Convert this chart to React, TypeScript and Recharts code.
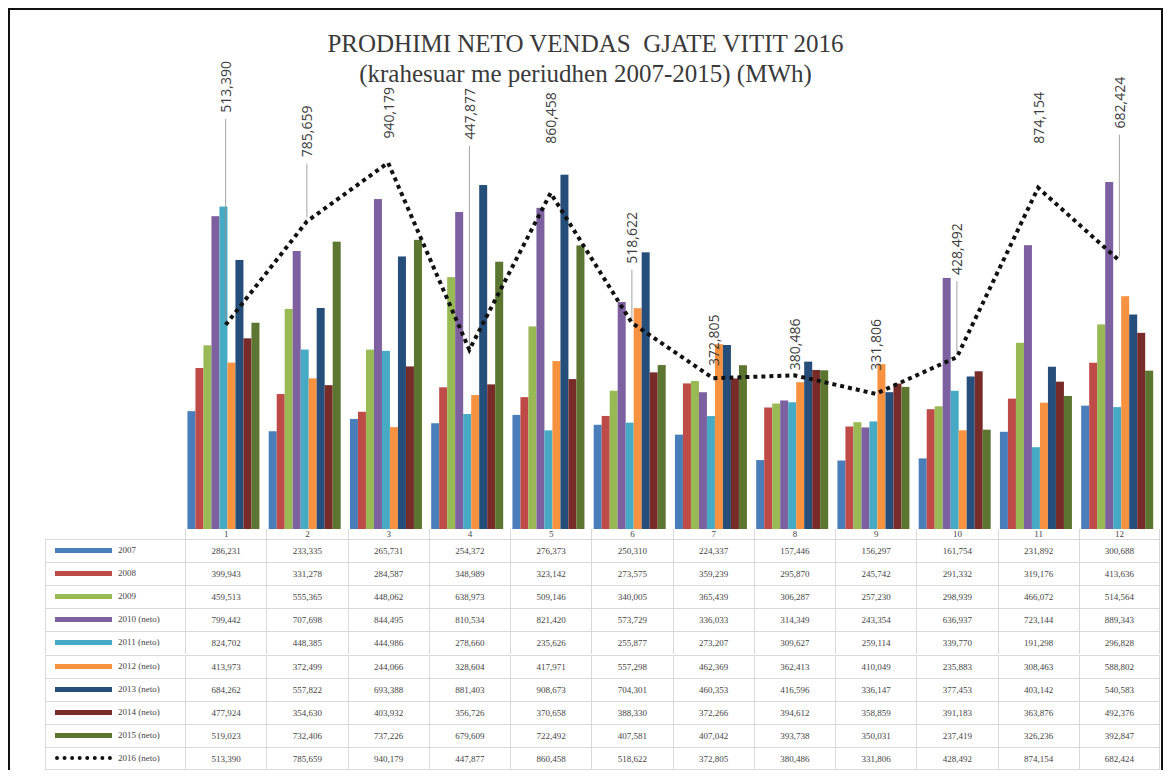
import {Bar, ComposedChart, LabelList, Line, XAxis, YAxis} from 'recharts';

const months = ['1', '2', '3', '4', '5', '6', '7', '8', '9', '10', '11', '12'];

const v2007 = [286231, 233335, 265731, 254372, 276373, 250310, 224337, 157446, 156297, 161754, 231892, 300688];
const v2008 = [399943, 331278, 284587, 348989, 323142, 273575, 359239, 295870, 245742, 291332, 319176, 413636];
const v2009 = [459513, 555365, 448062, 638973, 509146, 340005, 365439, 306287, 257230, 298939, 466072, 514564];
const v2010 = [799442, 707698, 844495, 810534, 821420, 573729, 336033, 314349, 243354, 636937, 723144, 889343];
const v2011 = [824702, 448385, 444986, 278660, 235626, 255877, 273207, 309627, 259114, 339770, 191298, 296828];
const v2012 = [413973, 372499, 244066, 328604, 417971, 557298, 462369, 362413, 410049, 235883, 308463, 588802];
const v2013 = [684262, 557822, 693388, 881403, 908673, 704301, 460353, 416596, 336147, 377453, 403142, 540583];
const v2014 = [477924, 354630, 403932, 356726, 370658, 388330, 372266, 394612, 358859, 391183, 363876, 492376];
const v2015 = [519023, 732406, 737226, 679609, 722492, 407581, 407042, 393738, 350031, 237419, 326236, 392847];
const v2016 = [513390, 785659, 940179, 447877, 860458, 518622, 372805, 380486, 331806, 428492, 874154, 682424];

// how far above its point each 2016 label sits (px), as placed in the original
const labelLift = [238, 90, 50, 236, 75, 85, 38, 31, 49, 108, 70, 158];

const barSeries = [
  {key: 'y2007', label: '2007', color: '#4a7ebb', values: v2007},
  {key: 'y2008', label: '2008', color: '#be4b48', values: v2008},
  {key: 'y2009', label: '2009', color: '#98b954', values: v2009},
  {key: 'y2010', label: '2010 (neto)', color: '#7d60a0', values: v2010},
  {key: 'y2011', label: '2011 (neto)', color: '#46aac5', values: v2011},
  {key: 'y2012', label: '2012 (neto)', color: '#f69240', values: v2012},
  {key: 'y2013', label: '2013 (neto)', color: '#264e7b', values: v2013},
  {key: 'y2014', label: '2014 (neto)', color: '#772c2a', values: v2014},
  {key: 'y2015', label: '2015 (neto)', color: '#5c7530', values: v2015},
];

const data = months.map((m, i) => {
  const row: Record<string, string | number> = {month: m, y2016: v2016[i]};
  barSeries.forEach(s => { row[s.key] = s.values[i]; });
  return row;
});

const fmt = (n: number) => n.toLocaleString('en-US');

// bars run down to the bottom of the plot, like the original (axis min below zero)
const FullBar = (props: any) => {
  const {x, y, width, fill, background} = props;
  const bottom = background ? background.y + background.height : props.y + props.height;
  return <rect x={x} y={y} width={width} height={Math.max(0, bottom - y)} fill={fill} />;
};

const LineLabel = (props: any) => {
  const {x, y, value, index} = props;
  const lift = labelLift[index] ?? 40;
  const cy = y - lift;
  return (
    <g>
      {lift > 80 && <line x1={x} x2={x} y1={cy + 32} y2={y - 4} stroke="#8c8c8c" strokeWidth={0.8} />}
      <text
        x={x}
        y={cy}
        transform={`rotate(-90 ${x} ${cy})`}
        textAnchor="middle"
        dominantBaseline="central"
        fontSize={14}
        fontFamily="'Open Sans', sans-serif"
        fill="#3c3c3c"
      >
        {fmt(value)}
      </text>
    </g>
  );
};

const PLOT_LEFT = 177;
const COL_W = 975 / 12;
const ROW_H = 23.1;
const HEAD_TOP = 521;
const HEAD_H = 10;
const ROWS_TOP = HEAD_TOP + HEAD_H;
const GRID = '1px solid #d9d9d9';

const tableRows = [
  ...barSeries.map(s => ({label: s.label, color: s.color, values: s.values, dotted: false})),
  {label: '2016 (neto)', color: '#111', values: v2016, dotted: true},
];

const cellText: React.CSSProperties = {
  position: 'absolute',
  fontFamily: "'Liberation Serif', serif",
  fontSize: 9,
  color: '#444',
  textAlign: 'center',
  lineHeight: `${ROW_H}px`,
  boxSizing: 'border-box',
};

export default function App() {
  const last = tableRows.length - 1;
  return (
    <div style={{position: 'relative', width: 1155, height: 762, background: '#fff', overflow: 'hidden'}}>
      <div style={{position: 'absolute', left: 0, top: 0, width: 1151, height: 780, borderTop: '2px solid #111', borderLeft: '2px solid #111', borderRight: '2px solid #111'}} />
      <div style={{position: 'absolute', left: 0, top: 21, width: 1155, textAlign: 'center', fontFamily: "'Liberation Serif', serif", fontSize: 25, color: '#3a3a3a', lineHeight: '30px'}}>
        <div>PRODHIMI NETO VENDAS&nbsp; GJATE VITIT 2016</div>
        <div>(krahesuar me periudhen 2007-2015) (MWh)</div>
      </div>

      <div style={{position: 'absolute', left: 0, top: 0}}>
        <ComposedChart
          width={1155}
          height={525}
          data={data}
          margin={{top: 113, right: 3, bottom: 4, left: PLOT_LEFT}}
          barCategoryGap="3%"
          barGap={0}
        >
          <XAxis dataKey="month" hide />
          <YAxis hide domain={[-24000, 1050000]} type="number" allowDataOverflow />
          {barSeries.map(s => (
            <Bar key={s.key} dataKey={s.key} fill={s.color} shape={<FullBar />} isAnimationActive={false} />
          ))}
          <Line
            dataKey="y2016"
            stroke="#111"
            strokeWidth={4}
            strokeDasharray="4 4"
            dot={false}
            activeDot={false}
            isAnimationActive={false}
          >
            <LabelList dataKey="y2016" content={<LineLabel />} />
          </Line>
        </ComposedChart>
      </div>

      {/* data table */}
      {months.map((m, i) => (
        <div key={`h${i}`} style={{...cellText, left: PLOT_LEFT + i * COL_W, top: HEAD_TOP, width: COL_W, height: HEAD_H, lineHeight: `${HEAD_H}px`, borderLeft: GRID, borderRight: i === 11 ? GRID : undefined}}>
          {m}
        </div>
      ))}
      {tableRows.map((r, ri) => {
        const top = ROWS_TOP + ri * ROW_H;
        return (
          <div key={r.label}>
            <div style={{position: 'absolute', left: 37, top, width: PLOT_LEFT - 37, height: ROW_H, borderTop: GRID, borderLeft: GRID, borderBottom: ri === last ? GRID : undefined, boxSizing: 'border-box'}} />
            <div style={{position: 'absolute', left: 47, top: top + ROW_H / 2 - 2.5, width: 57, height: 0, borderTop: r.dotted ? `4px dotted ${r.color}` : `5px solid ${r.color}`}} />
            <div style={{...cellText, left: 110, top, textAlign: 'left'}}>{r.label}</div>
            {r.values.map((v, i) => (
              <div key={i} style={{...cellText, left: PLOT_LEFT + i * COL_W, top, width: COL_W, height: ROW_H, borderTop: GRID, borderLeft: GRID, borderRight: i === 11 ? GRID : undefined, borderBottom: ri === last ? GRID : undefined}}>
                {fmt(v)}
              </div>
            ))}
          </div>
        );
      })}
    </div>
  );
}
